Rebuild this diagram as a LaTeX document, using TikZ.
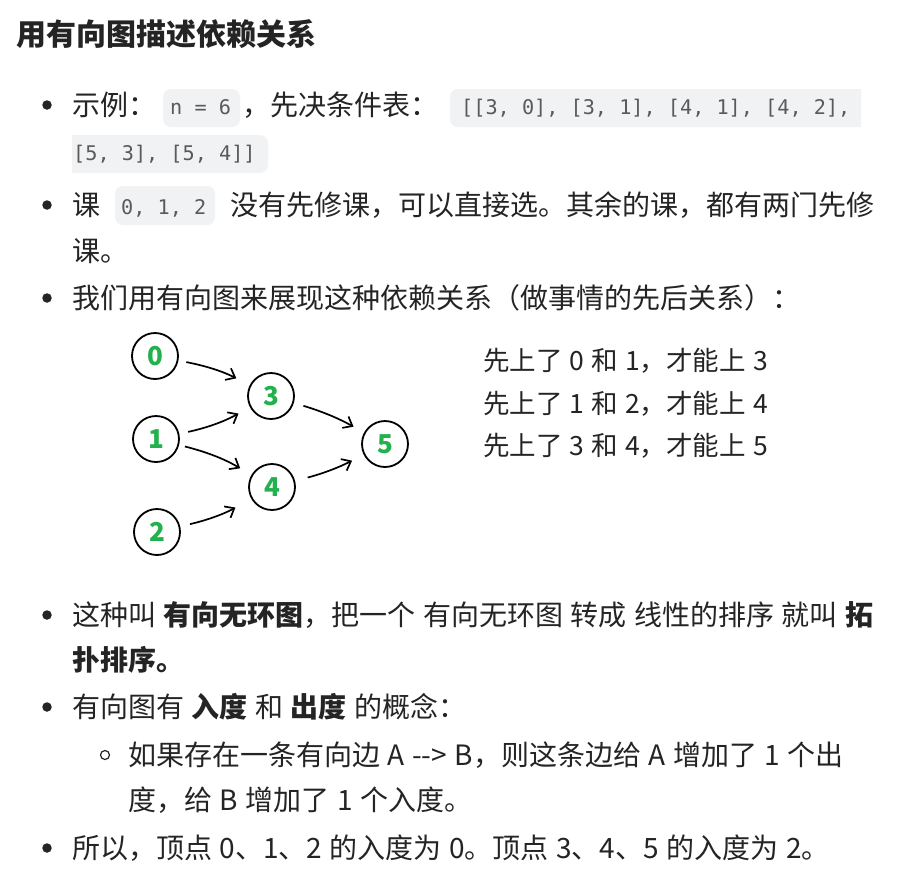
\documentclass[tikz,border=0pt]{standalone}
\usepackage{fontspec}
\setmainfont{Noto Sans CJK SC}[WordSpace=1.2]
\newfontfamily\codefont{DejaVu Sans Mono}
\usetikzlibrary{arrows.meta}
\definecolor{textc}{HTML}{242424}
\definecolor{codebg}{HTML}{F0F2F4}
\definecolor{codetx}{HTML}{5A5A5A}
\definecolor{nodegreen}{HTML}{22B14C}
\tikzset{
  txt/.style={anchor=base west, inner sep=0pt, text=textc, font=\fontsize{28}{28}\selectfont},
  rtxt/.style={anchor=base west, inner sep=0pt, text=textc, font=\fontsize{26.5}{26.5}\selectfont},
  titletxt/.style={anchor=base west, inner sep=0pt, text=textc, font=\fontsize{30}{30}\selectfont\bfseries},
  codetxt/.style={anchor=base west, inner sep=0pt, text=codetx, font=\codefont\fontsize{20.2}{20.2}\selectfont},
  bul/.style={circle, fill=textc, inner sep=0pt, minimum size=9.5pt},
  subbul/.style={circle, draw=textc, line width=1.2pt, inner sep=0pt, minimum size=9pt},
  gnode/.style={circle, draw=black, line width=1.8pt, minimum size=46pt, inner sep=0pt, text=nodegreen, font=\fontsize{26}{26}\selectfont\bfseries},
  arr/.style={line width=1.7pt, -{Straight Barb[length=8pt,width=13pt,line width=1.7pt]}}
}
\begin{document}
\begin{tikzpicture}[x=1pt,y=-1pt]
\useasboundingbox[fill=white] (0,0) rectangle (900,895);

% title
\node[titletxt] (title) at (16,45) {用有向图描述依赖关系};

% bullet 1
\node[bul] (b1) at (47,105) {};
\node[txt] (l1a) at (72,115) {示例：};
\fill[codebg, rounded corners=8pt] (163,89) rectangle (240,127);
\node[codetxt] (c1) at (170,114) {n = 6};
\node[txt] (l1b) at (242,115) {，先决条件表：};
\fill[codebg] (861,89) [rounded corners=8pt] -- (450,89) -- (450,127) [sharp corners] -- (861,127) -- cycle;
\node[codetxt] (c2) at (461,114) {[[3, 0], [3, 1], [4, 1], [4, 2],};
\fill[codebg] (72,135) [rounded corners=8pt] -- (268,135) -- (268,173) [sharp corners] -- (72,173) -- cycle;
\node[codetxt] (c3) at (73,160) {[5, 3], [5, 4]]};

% bullet 2
\node[bul] (b2) at (47,205) {};
\node[txt] (l2a) at (72,215) {课};
\fill[codebg, rounded corners=8pt] (115,186) rectangle (215,225);
\node[codetxt] (c4) at (121,214) {0, 1, 2};
\node[txt] (l2b) at (230,215) {没有先修课，可以直接选。其余的课，都有两门先修};
\node[txt] (l2c) at (72,261) {课。};

% bullet 3
\node[bul] (b3) at (47,298) {};
\node[txt] (l3) at (72,308) {我们用有向图来展现这种依赖关系（做事情的先后关系）：};

% graph
\node[gnode] (n0) at (155,356) {0};
\node[gnode] (n1) at (156,439) {1};
\node[gnode] (n2) at (157,532) {2};
\node[gnode] (n3) at (271,396) {3};
\node[gnode] (n4) at (272,487) {4};
\node[gnode] (n5) at (385,444) {5};
\draw[arr, shorten <=8pt, shorten >=15pt] (n0) to[bend left=8] (n3);
\draw[arr, shorten <=9pt, shorten >=13pt] (n1) to[bend right=8] (n3);
\draw[arr, shorten <=6pt, shorten >=13pt] (n1) to[bend left=8] (n4);
\draw[arr, shorten <=10pt, shorten >=18pt] (n2) to[bend right=8] (n4);
\draw[arr, shorten <=10pt, shorten >=12pt] (n3) to[bend left=6] (n5);
\draw[arr, shorten <=13pt, shorten >=13pt] (n4) to[bend right=6] (n5);

\node[rtxt] (r1) at (483,370) {先上了 0 和 1，才能上 3};
\node[rtxt] (r2) at (483,413) {先上了 1 和 2，才能上 4};
\node[rtxt] (r3) at (483,455) {先上了 3 和 4，才能上 5};

% bullet 4
\node[bul] (b4) at (47,615) {};
\node[txt] (l4) at (72,625) {这种叫 \textbf{有向无环图}，把一个 有向无环图 转成 线性的排序 就叫 \textbf{拓}};
\node[txt] (l4b) at (72,670) {\textbf{扑排序。}};

% bullet 5
\node[bul] (b5) at (47,707) {};
\node[txt] (l5) at (72,717) {有向图有 \textbf{入度} 和 \textbf{出度} 的概念：};
\node[subbul] (s1) at (105,755) {};
\node[txt] (l5a) at (128,765) {如果存在一条有向边 A \mbox{-}\mbox{-}> B，则这条边给 A 增加了 1 个出};
\node[txt] (l5b) at (128,810) {度，给 B 增加了 1 个入度。};

% bullet 6
\node[bul] (b6) at (47,848) {};
\node[txt] (l6) at (72,858) {所以，顶点 0、1、2 的入度为 0。顶点 3、4、5 的入度为 2。};
\end{tikzpicture}
\end{document}
